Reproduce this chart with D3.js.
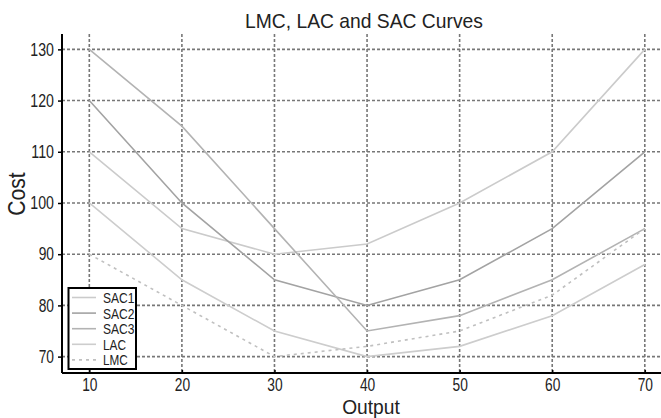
<!DOCTYPE html>
<html><head><meta charset="utf-8">
<script src="https://cdn.jsdelivr.net/npm/d3@7"></script>
<style>body{margin:0;background:#fff}svg{display:block}text{font-family:"Liberation Sans",Arial,sans-serif}</style>
</head><body><svg id="c" width="661" height="418"></svg>
<script>
const output = [10,20,30,40,50,60,70];
const sac1 = [110,95,90,92,100,110,130];
const sac2 = [120,100,85,80,85,95,110];
const sac3 = [130,115,95,75,78,85,95];
const lac  = [100,85,75,70,72,78,88];
const lmc  = [90,80,70,72,75,82,95];
const xTicks = [10,20,30,40,50,60,70];
const yTicks = [70,80,90,100,110,120,130];
const seriesNames = ["SAC1","SAC2","SAC3","LAC","LMC"];

const series = [
  {name:"SAC1", v:sac1, color:"#cbcbcb", dash:null},
  {name:"SAC2", v:sac2, color:"#a3a3a3", dash:null},
  {name:"SAC3", v:sac3, color:"#b3b3b3", dash:null},
  {name:"LAC",  v:lac,  color:"#cdcdcd", dash:null},
  {name:"LMC",  v:lmc,  color:"#c0c0c0", dash:"3,4"}
];

function condense(sel, factor, spacing){
  sel.each(function(){
    const n = this.textContent.length;
    const w = this.getComputedTextLength();
    this.setAttribute("textLength", w*factor + spacing*(n-1));
    this.setAttribute("lengthAdjust","spacingAndGlyphs");
  });
}

const svg = d3.select("#c");
const L=62, R=661, T=34, B=373;
const x = d3.scaleLinear().domain([7.05, 71.75]).range([L,R]);
const y = d3.scaleLinear().domain([66.8, 133]).range([B,T]);

const g = svg.append("g");
g.selectAll(".gx").data(xTicks).join("line")
  .attr("x1",d=>x(d)).attr("x2",d=>x(d)).attr("y1",T).attr("y2",B)
  .attr("stroke","#777").attr("stroke-width",1.6).attr("stroke-dasharray","3,2");
g.selectAll(".gy").data(yTicks).join("line")
  .attr("y1",d=>y(d)).attr("y2",d=>y(d)).attr("x1",L).attr("x2",R)
  .attr("stroke","#777").attr("stroke-width",1.6).attr("stroke-dasharray","3,2");

const line = d3.line().x((d,i)=>x(output[i])).y(d=>y(d));
series.forEach(s=>{
  svg.append("path").attr("d",line(s.v)).attr("fill","none")
    .attr("stroke",s.color).attr("stroke-width",1.6)
    .attr("stroke-dasharray",s.dash);
});

const xa = svg.append("g").attr("transform",`translate(0,${B})`)
  .call(d3.axisBottom(x).tickValues(xTicks).tickSize(-3).tickPadding(5));
const ya = svg.append("g").attr("transform",`translate(${L},0)`)
  .call(d3.axisLeft(y).tickValues(yTicks).tickSize(4).tickPadding(4));
[xa,ya].forEach(a=>{
  a.select(".domain").attr("stroke","#000").attr("stroke-width",2);
  a.selectAll(".tick line").attr("stroke","#000").attr("stroke-width",1.5);
  a.selectAll("text").attr("font-size",18).attr("fill","#222")
   .style("font-family",'"Liberation Sans",Arial,sans-serif');
  condense(a.selectAll("text"),0.7,1.3);
});
ya.select(".domain").attr("d",`M0,${T}V${B}`);
xa.select(".domain").attr("d",`M${L},0H${R}`);

svg.append("text").attr("x",364).attr("y",28).attr("text-anchor","middle")
  .attr("font-size",21).attr("fill","#222").text("LMC, LAC and SAC Curves")
  .call(condense,0.74,2.1);
svg.append("text").attr("x",371).attr("y",414).attr("text-anchor","middle")
  .attr("font-size",20).attr("fill","#222").text("Output")
  .call(condense,0.76,2.4);
svg.append("text").attr("transform","translate(25,194) rotate(-90)").attr("text-anchor","middle")
  .attr("font-size",24).attr("fill","#222").text("Cost")
  .call(condense,0.76,2);

const lg = svg.append("g");
lg.append("rect").attr("x",68.5).attr("y",288).attr("width",67.5).attr("height",81)
  .attr("fill","#fff").attr("stroke","#000").attr("stroke-width",2);
series.forEach((s,i)=>{
  const yy = 297.5 + i*15.6;
  lg.append("line").attr("x1",72).attr("x2",96).attr("y1",yy).attr("y2",yy)
    .attr("stroke",s.color).attr("stroke-width",1.6).attr("stroke-dasharray",s.dash);
  lg.append("text").attr("x",103).attr("y",yy+5.5).attr("font-size",15)
    .attr("fill","#222").text(seriesNames[i]).call(condense,0.68,1.6);
});
</script></body></html>
